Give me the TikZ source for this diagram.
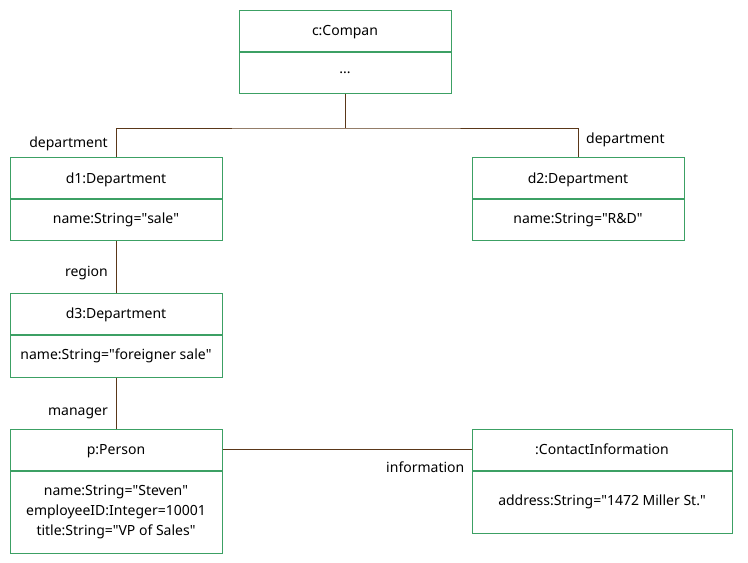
\documentclass[tikz,border=0pt]{standalone}
\usepackage{fontspec}
\setmainfont{Noto Sans}
\usepackage{tikz}
\usetikzlibrary{positioning}
\definecolor{objgreen}{RGB}{60,160,100}
\definecolor{linkbrown}{RGB}{90,55,25}
\newcommand{\qt}{\textquotedbl}
\tikzset{
	objhead/.style 2 args={draw=objgreen,line width=1pt,minimum width=#1,minimum height=41pt,inner sep=0pt,text height=10pt,text depth=0pt,name=#2},
	objbody/.style 2 args={draw=objgreen,line width=1pt,minimum width=#1,minimum height=#2,inner sep=0pt,align=center,font=\fontsize{14}{20}\selectfont},
	link/.style={draw=linkbrown,line width=0.9pt},
	role/.style={inner sep=0pt,font=\fontsize{14}{16}\selectfont}
}
\begin{document}
\begin{tikzpicture}[x=1pt,y=-1pt,font=\fontsize{14}{16}\selectfont]
	\useasboundingbox (0,0) rectangle (748,563);

	\node [objhead={212pt}{c}] at (345,30.5) {c:Compan};
	\node [objbody={212pt}{41pt},below=0pt of c] (cb) {...};

	\node [objhead={212pt}{d1}] at (116,178) {d1:Department};
	\node [objbody={212pt}{41pt},below=0pt of d1] (d1b) {name:String=\qt sale\qt};

	\node [objhead={212pt}{d2}] at (578,178) {d2:Department};
	\node [objbody={212pt}{41pt},below=0pt of d2] (d2b) {name:String=\qt R\&D\qt};

	\node [objhead={212pt}{d3}] at (116,313.5) {d3:Department};
	\node [objbody={212pt}{42pt},below=0pt of d3] (d3b) {name:String=\qt foreigner sale\qt};

	\node [objhead={212pt}{p}] at (116,449.5) {p:Person};
	\node [objbody={212pt}{82pt},below=0pt of p] (pb) {name:String=\qt Steven\qt\\employeeID:Integer=10001\\title:String=\qt VP of Sales\qt};

	\node [objhead={260pt}{ci}] at (602,449.5) {:ContactInformation};
	\node [objbody={260pt}{62pt},below=0pt of ci] (cib) {address:String=\qt 1472 Miller St.\qt};

	\coordinate (fork) at (345,128);
	\draw [link] (cb.south) -- (fork);
	\draw [link] (d1.north) |- (fork) -| (d2.north);
	\draw [link] (d1b.south) -- (d3.north);
	\draw [link] (d3b.south) -- (p.north);
	\draw [link] (p.east) -- (ci.west);

	\node [role,anchor=south east] (r1) at ([xshift=-8pt,yshift=6pt]d1.north) {department};
	\node [role,anchor=south west] (r2) at ([xshift=8pt,yshift=10pt]d2.north) {department};
	\node [role,anchor=east] (r3) at (108,273) {region};
	\node [role,anchor=east] (r4) at (108,413) {manager};
	\node [role,anchor=east] (r5) at ([xshift=-7pt,yshift=-17.5pt]ci.west) {information};
\end{tikzpicture}
\end{document}
